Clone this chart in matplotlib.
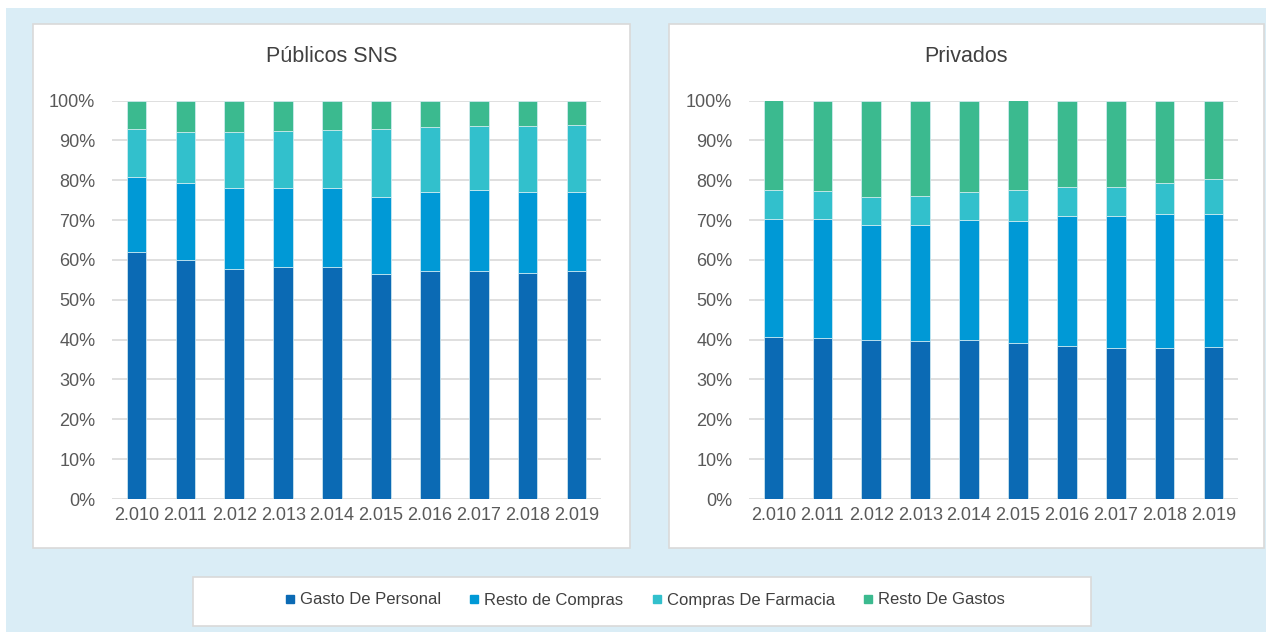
import matplotlib
matplotlib.use("Agg")
import matplotlib.pyplot as plt
import numpy as np
from matplotlib.patches import Rectangle
from matplotlib.lines import Line2D
from matplotlib.ticker import PercentFormatter

plt.rcParams['font.family'] = ['Liberation Sans', 'DejaVu Sans']

years = ["2.010", "2.011", "2.012", "2.013", "2.014", "2.015", "2.016", "2.017", "2.018", "2.019"]
series = ["Gasto De Personal", "Resto de Compras", "Compras De Farmacia", "Resto De Gastos"]
colors = ["#0B6AB4", "#0099D6", "#32C0CC", "#3BBA8F"]

# cumulative tops (percent)
pub_personal = [61.9, 60.0, 57.8, 58.2, 58.2, 56.4, 57.2, 57.3, 56.8, 57.2]
pub_compras = [80.9, 79.2, 78.0, 78.0, 78.0, 75.8, 77.0, 77.5, 77.0, 77.0]
pub_farmacia = [92.9, 92.0, 92.0, 92.4, 92.6, 92.9, 93.4, 93.6, 93.6, 93.8]

priv_personal = [40.6, 40.4, 39.8, 39.6, 39.8, 39.1, 38.3, 37.9, 37.8, 38.1]
priv_compras = [70.2, 70.2, 68.8, 68.8, 70.0, 69.8, 71.0, 71.0, 71.6, 71.6]
priv_farmacia = [77.6, 77.4, 75.8, 76.1, 77.1, 77.6, 78.3, 78.3, 79.4, 80.3]

W, H = 1266, 632
fig = plt.figure(figsize=(W / 100, H / 100), dpi=100)
fig.patch.set_facecolor("white")


def box(x0, y0, x1, y1, fc, ec="none", lw=0):
    fig.patches.append(Rectangle((x0 / W, 1 - y1 / H), (x1 - x0) / W, (y1 - y0) / H,
                                 transform=fig.transFigure, facecolor=fc,
                                 edgecolor=ec, linewidth=lw, zorder=-10))


box(6, 8, 1266, 632, "#DAEDF6")
box(33, 24, 630, 548, "white", "#D9D9D9", 1.2)
box(669, 24, 1264, 548, "white", "#D9D9D9", 1.2)
box(193, 577, 1091, 626, "white", "#D9D9D9", 1.2)


def draw(ax, cum):
    x = np.arange(len(years))
    bottoms = [np.zeros(len(years))] + [np.array(c) for c in cum]
    tops = [np.array(c) for c in cum] + [np.full(len(years), 100.0)]
    for i in range(4):
        ax.bar(x, tops[i] - bottoms[i], bottom=bottoms[i], width=0.4,
               color=colors[i], edgecolor="#D8EEF4", linewidth=0.5, zorder=3)
    ax.set_xlim(-0.5, len(years) - 0.5)
    ax.set_ylim(0, 100)
    ax.set_yticks(np.arange(0, 101, 10))
    ax.yaxis.set_major_formatter(PercentFormatter(decimals=0))
    ax.set_xticks(x)
    ax.set_xticklabels(years)
    ax.grid(axis="y", color="#D9D9D9", linewidth=1.2, zorder=0)
    ax.set_axisbelow(True)
    for s in ax.spines.values():
        s.set_visible(False)
    ax.tick_params(axis="both", length=0, labelsize=13, labelcolor="#595959")
    ax.tick_params(axis="y", pad=12)
    ax.tick_params(axis="x", pad=6)
    ax.patch.set_alpha(0)


ax1 = fig.add_axes([112 / W, 1 - 499 / H, 489 / W, 398.5 / H])
draw(ax1, [pub_personal, pub_compras, pub_farmacia])
ax2 = fig.add_axes([749 / W, 1 - 499 / H, 489 / W, 398.5 / H])
draw(ax2, [priv_personal, priv_compras, priv_farmacia])

fig.text(331.5 / W, 1 - 56 / H, "Públicos SNS", ha="center", va="center",
         fontsize=15.5, color="#404040")
fig.text(966.5 / W, 1 - 56 / H, "Privados", ha="center", va="center",
         fontsize=15.5, color="#404040")

handles = [Line2D([], [], marker="s", linestyle="none", markersize=6,
                  markerfacecolor=c, markeredgecolor=c) for c in colors]
fig.legend(handles, series, loc="center", bbox_to_anchor=(645 / W, 1 - 600 / H),
           ncol=4, frameon=False, fontsize=12, labelcolor="#404040",
           handlelength=0.6, handletextpad=0.3, columnspacing=1.7)

fig.savefig("out.png", dpi=100)
